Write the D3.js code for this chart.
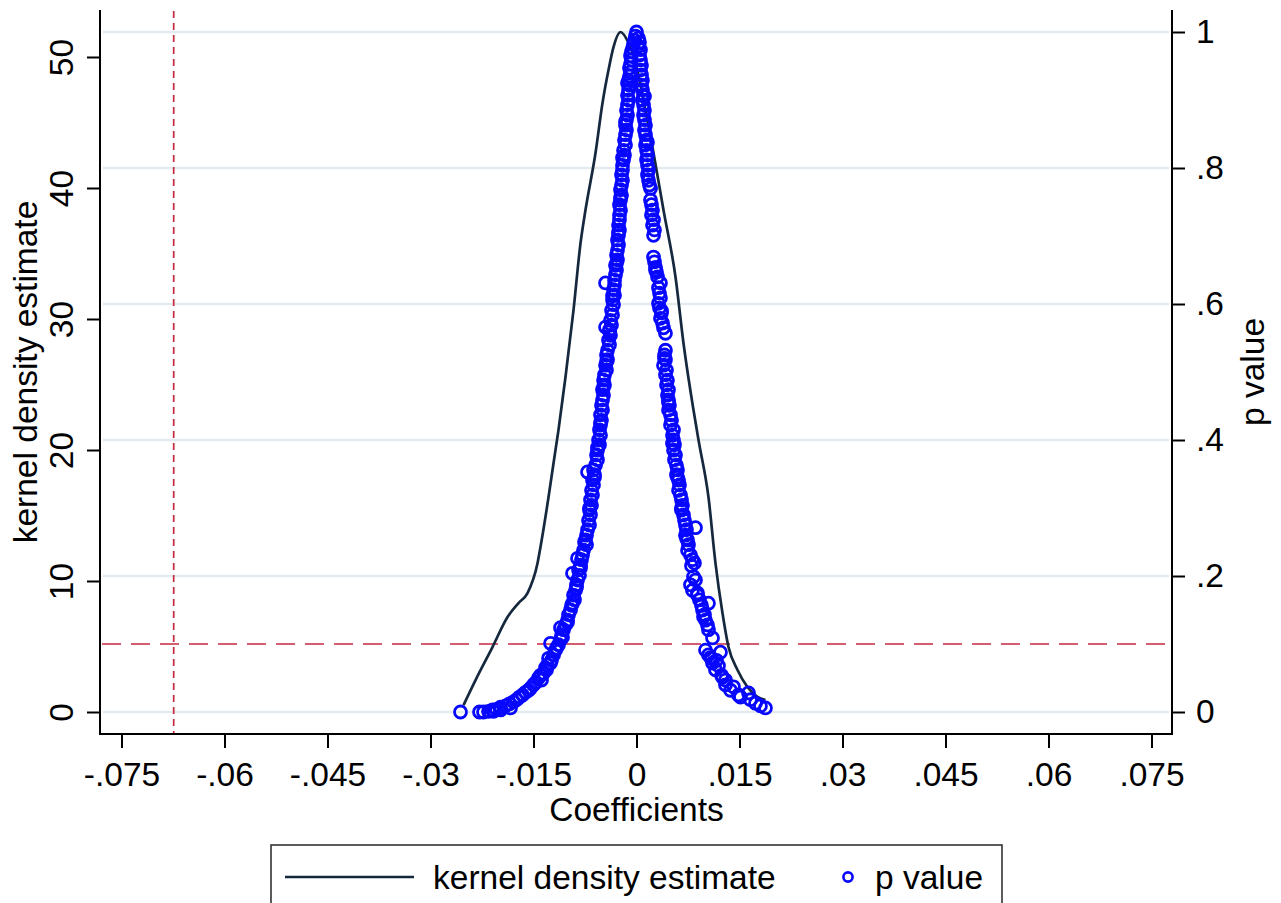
<!DOCTYPE html>
<html>
<head>
<meta charset="utf-8">
<script src="https://cdn.jsdelivr.net/npm/d3@7"></script>
<style>
  html, body { margin: 0; padding: 0; background: #fff; }
  svg { display: block; font-family: "Liberation Sans", Arial, sans-serif; }
</style>
</head>
<body>
<svg id="chart" width="1281" height="903"></svg>
<script>
// ---- tick values / labels ----
const xTicks = [-0.075, -0.06, -0.045, -0.03, -0.015, 0, 0.015, 0.03, 0.045, 0.06, 0.075];
const xTickLabels = ["-.075", "-.06", "-.045", "-.03", "-.015", "0", ".015", ".03", ".045", ".06", ".075"];
const yLeftTicks = [0, 10, 20, 30, 40, 50];
const yLeftTickLabels = ["0", "10", "20", "30", "40", "50"];
const yRightTicks = [0, 0.2, 0.4, 0.6, 0.8, 1];
const yRightTickLabels = ["0", ".2", ".4", ".6", ".8", "1"];

// ---- reference lines ----
const refP = 0.1;
const refCoef = -0.0674;

// ---- kernel density estimate ----
const densityCoef = [-0.02519, -0.02344, -0.02097, -0.01878, -0.01718, -0.01587, -0.01441, -0.01398, -0.01281, -0.01208,
  -0.01136, -0.01034, -0.00917, -0.00815, -0.00743, -0.00597, -0.00495, -0.00408, -0.00335, -0.00233,
  -0.00116, -0.00015, 0.00102, 0.00248, 0.00393, 0.00568, 0.00684, 0.00830, 0.00903, 0.01048,
  0.01150, 0.01252, 0.01340, 0.01471, 0.01616, 0.01762, 0.01878];
const densityVal = [0.53, 2.44, 4.96, 7.25, 8.32, 9.08, 11.37, 12.6, 16.41, 19.01,
  21.53, 25.57, 30.69, 35.80, 38.32, 42.67, 46.49, 49.0, 50.76, 51.91,
  51.07, 49.6, 46.7, 42.67, 38.32, 33.21, 28.17, 23.05, 20.76, 16.41,
  11.37, 7.56, 4.96, 3.21, 1.91, 1.15, 0.92];

// ---- p values (left branch) ----
const pLeftCoef = [0, -0.00015, -0.00029, -0.00044, -0.00058, -0.00073, -0.00087, -0.00073, -0.00087, -0.00102,
  -0.00087, -0.00102, -0.00116, -0.00102, -0.00116, -0.00131, -0.00116, -0.00131, -0.00146, -0.00131,
  -0.00146, -0.00160, -0.00146, -0.00160, -0.00175, -0.00160, -0.00189, -0.00175, -0.00189, -0.00204,
  -0.00204, -0.00218, -0.00204, -0.00218, -0.00233, -0.00218, -0.00233, -0.00248, -0.00233, -0.00248,
  -0.00248, -0.00262, -0.00248, -0.00262, -0.00277, -0.00262, -0.00277, -0.00291, -0.00277, -0.00306,
  -0.00291, -0.00306, -0.00320, -0.00451, -0.00320, -0.00335, -0.00320, -0.00349, -0.00335, -0.00364,
  -0.00349, -0.00379, -0.00364, -0.00451, -0.00393, -0.00379, -0.00408, -0.00393, -0.00422, -0.00437,
  -0.00422, -0.00451, -0.00437, -0.00466, -0.00480, -0.00466, -0.00495, -0.00480, -0.00495, -0.00510,
  -0.00495, -0.00524, -0.00510, -0.00524, -0.00539, -0.00524, -0.00553, -0.00539, -0.00568, -0.00582,
  -0.00568, -0.00597, -0.00626, -0.00713, -0.00612, -0.00641, -0.00626, -0.00655, -0.00641, -0.00670,
  -0.00655, -0.00684, -0.00670, -0.00699, -0.00684, -0.00713, -0.00728, -0.00743, -0.00728, -0.00772,
  -0.00786, -0.00859, -0.00801, -0.00815, -0.00844, -0.00932, -0.00830, -0.00859, -0.00874, -0.00888,
  -0.00917, -0.00903, -0.00946, -0.00961, -0.00990, -0.01005, -0.01034, -0.01107, -0.01063, -0.01092,
  -0.01107, -0.01252, -0.01136, -0.01165, -0.01179, -0.01208, -0.01281, -0.01238, -0.01252, -0.01296,
  -0.01325, -0.01310, -0.01354, -0.01398, -0.01427, -0.01383, -0.01471, -0.01500, -0.01543, -0.01572,
  -0.01616, -0.01660, -0.01704, -0.01747, -0.01791, -0.01849, -0.01907, -0.01980, -0.02038, -0.02097,
  -0.02155, -0.02228, -0.02286, -0.02563, -0.02082, -0.01980, -0.01835,
  -0.00131, -0.00160, -0.00204, -0.00233, -0.00262, -0.00291, -0.00349, -0.00393, -0.00437, -0.00480,
  -0.00524, -0.00568, -0.00612, -0.00684, -0.00757, -0.00815, -0.00874, -0.00932, -0.01005, -0.01077];
const pLeftP = [1.000, 0.994, 0.988, 0.982, 0.976, 0.971, 0.965, 0.959, 0.953, 0.947,
  0.941, 0.935, 0.929, 0.922, 0.915, 0.907, 0.900, 0.893, 0.885, 0.878,
  0.871, 0.863, 0.856, 0.849, 0.841, 0.834, 0.826, 0.819, 0.812, 0.804,
  0.797, 0.790, 0.782, 0.775, 0.768, 0.760, 0.753, 0.746, 0.738, 0.731,
  0.724, 0.716, 0.709, 0.701, 0.694, 0.687, 0.679, 0.672, 0.665, 0.657,
  0.650, 0.643, 0.635, 0.631, 0.628, 0.621, 0.613, 0.606, 0.599, 0.591,
  0.584, 0.576, 0.569, 0.566, 0.562, 0.554, 0.547, 0.540, 0.532, 0.525,
  0.518, 0.510, 0.503, 0.496, 0.488, 0.481, 0.474, 0.466, 0.459, 0.451,
  0.444, 0.437, 0.429, 0.422, 0.415, 0.407, 0.400, 0.393, 0.385, 0.378,
  0.371, 0.363, 0.356, 0.353, 0.349, 0.341, 0.334, 0.326, 0.319, 0.312,
  0.304, 0.297, 0.290, 0.282, 0.275, 0.268, 0.260, 0.253, 0.246, 0.238,
  0.231, 0.226, 0.224, 0.216, 0.209, 0.204, 0.201, 0.194, 0.187, 0.179,
  0.172, 0.165, 0.157, 0.150, 0.143, 0.135, 0.128, 0.124, 0.121, 0.113,
  0.106, 0.101, 0.099, 0.094, 0.091, 0.084, 0.079, 0.076, 0.072, 0.069,
  0.065, 0.062, 0.057, 0.054, 0.050, 0.047, 0.043, 0.040, 0.035, 0.032,
  0.029, 0.025, 0.022, 0.018, 0.015, 0.012, 0.009, 0.007, 0.004, 0.003,
  0.001, 0.000, 0.000, 0.000, 0.001, 0.003, 0.006,
  0.925, 0.868, 0.815, 0.757, 0.705, 0.660, 0.612, 0.560, 0.515, 0.478,
  0.426, 0.389, 0.345, 0.300, 0.250, 0.212, 0.183, 0.160, 0.132, 0.110];

// ---- p values (right branch) ----
const pRightCoef = [0.00029, 0.00044, 0.00029, 0.00058, 0.00044, 0.00058, 0.00073, 0.00058, 0.00073, 0.00087,
  0.00073, 0.00087, 0.00102, 0.00087, 0.00102, 0.00116, 0.00102, 0.00116, 0.00131, 0.00116,
  0.00131, 0.00146, 0.00131, 0.00146, 0.00160, 0.00146, 0.00160, 0.00175, 0.00160, 0.00175,
  0.00189, 0.00204, 0.00218, 0.00233, 0.00218, 0.00248, 0.00233, 0.00262, 0.00248, 0.00248,
  0.00262, 0.00277, 0.00291, 0.00306, 0.00349, 0.00320, 0.00335, 0.00349, 0.00320, 0.00335,
  0.00364, 0.00349, 0.00379, 0.00393, 0.00422, 0.00422, 0.00408, 0.00422, 0.00393, 0.00437,
  0.00422, 0.00451, 0.00437, 0.00466, 0.00451, 0.00466, 0.00480, 0.00466, 0.00495, 0.00510,
  0.00495, 0.00539, 0.00524, 0.00539, 0.00553, 0.00539, 0.00568, 0.00553, 0.00582, 0.00597,
  0.00582, 0.00612, 0.00626, 0.00612, 0.00641, 0.00655, 0.00670, 0.00655, 0.00684, 0.00699,
  0.00713, 0.00859, 0.00728, 0.00713, 0.00743, 0.00757, 0.00743, 0.00786, 0.00815, 0.00844,
  0.00830, 0.00859, 0.00786, 0.00815, 0.00888, 0.00917, 0.01048, 0.00946, 0.00961, 0.00990,
  0.01005, 0.01034, 0.01048, 0.01107, 0.01005, 0.01223, 0.01048, 0.01092, 0.01165, 0.01107,
  0.01194, 0.01150, 0.01238, 0.01252, 0.01296, 0.01296, 0.01412, 0.01369, 0.01631, 0.01485,
  0.01514, 0.01660, 0.01733, 0.01805, 0.01878,
  0.00116, 0.00160, 0.00204, 0.00277, 0.00364, 0.00408, 0.00466, 0.00524, 0.00597, 0.00655,
  0.00728, 0.00801, 0.00888, 0.00976, 0.01077];
const pRightP = [0.991, 0.985, 0.979, 0.974, 0.966, 0.959, 0.951, 0.944, 0.937, 0.929,
  0.922, 0.915, 0.907, 0.900, 0.893, 0.885, 0.878, 0.871, 0.863, 0.856,
  0.849, 0.841, 0.834, 0.826, 0.819, 0.812, 0.804, 0.797, 0.790, 0.782,
  0.775, 0.753, 0.746, 0.738, 0.731, 0.724, 0.716, 0.709, 0.701, 0.669,
  0.662, 0.654, 0.647, 0.640, 0.631, 0.624, 0.616, 0.609, 0.601, 0.594,
  0.587, 0.579, 0.572, 0.565, 0.557, 0.532, 0.525, 0.518, 0.510, 0.503,
  0.496, 0.488, 0.481, 0.474, 0.466, 0.459, 0.451, 0.444, 0.437, 0.429,
  0.422, 0.415, 0.407, 0.400, 0.393, 0.385, 0.378, 0.371, 0.363, 0.356,
  0.349, 0.341, 0.334, 0.326, 0.319, 0.312, 0.304, 0.297, 0.290, 0.282,
  0.275, 0.271, 0.268, 0.260, 0.253, 0.246, 0.238, 0.231, 0.224, 0.219,
  0.199, 0.194, 0.187, 0.179, 0.172, 0.165, 0.160, 0.157, 0.150, 0.143,
  0.135, 0.128, 0.121, 0.109, 0.091, 0.088, 0.084, 0.079, 0.076, 0.072,
  0.068, 0.062, 0.054, 0.051, 0.047, 0.040, 0.037, 0.032, 0.028, 0.025,
  0.022, 0.018, 0.013, 0.009, 0.006,
  0.905, 0.838, 0.770, 0.650, 0.590, 0.520, 0.455, 0.395, 0.345, 0.300,
  0.255, 0.215, 0.175, 0.140, 0.080];

// ---- layout ----
const W = 1281, H = 903;
const plot = { left: 100, right: 1172, top: 10, bottom: 734 };
const FONT = 33.5;
const navy = "#15283e";
const blue = "#0808ff";
const red = "#c62a40";
const gridCol = "#e3ebef";

const svg = d3.select("#chart");
svg.append("rect").attr("width", W).attr("height", H).attr("fill", "#fff");

const x = d3.scaleLinear().domain([-0.075, 0.075]).range([121.5, 1151.5]);
const yL = d3.scaleLinear().domain([0, 50]).range([712, 57]);
const yR = d3.scaleLinear().domain([0, 1]).range([712, 32]);

// gridlines (from p-value axis)
svg.append("g").selectAll("line").data(yRightTicks).join("line")
  .attr("x1", plot.left + 3).attr("x2", plot.right - 3)
  .attr("y1", d => yR(d)).attr("y2", d => yR(d))
  .attr("stroke", gridCol).attr("stroke-width", 2.4);

// reference lines
svg.append("line")
  .attr("x1", plot.left + 2).attr("x2", plot.right - 2)
  .attr("y1", yR(refP)).attr("y2", yR(refP))
  .attr("stroke", red).attr("stroke-width", 1.7).attr("stroke-dasharray", "19,10");
svg.append("line")
  .attr("x1", x(refCoef)).attr("x2", x(refCoef))
  .attr("y1", plot.top + 1).attr("y2", plot.bottom - 1)
  .attr("stroke", red).attr("stroke-width", 1.7).attr("stroke-dasharray", "7,5");

// density line
const densityData = densityCoef.map((c, i) => [c, densityVal[i]]);
svg.append("path").datum(densityData)
  .attr("fill", "none").attr("stroke", navy).attr("stroke-width", 2.7)
  .attr("stroke-linejoin", "round")
  .attr("d", d3.line().x(d => x(d[0])).y(d => yL(d[1])).curve(d3.curveMonotoneX));

// p value points
const pts = pLeftCoef.map((c, i) => [c, pLeftP[i]])
  .concat(pRightCoef.map((c, i) => [c, pRightP[i]]));
svg.append("g").selectAll("circle").data(pts).join("circle")
  .attr("cx", d => x(d[0])).attr("cy", d => yR(d[1])).attr("r", 6)
  .attr("fill", "none").attr("stroke", blue).attr("stroke-width", 2.8);

// axes
const styleAxis = g => {
  g.select(".domain").remove();
  g.selectAll(".tick line").attr("stroke", "#000").attr("stroke-width", 2);
  g.selectAll(".tick text").attr("font-size", FONT).attr("fill", "#000")
    .attr("font-family", "'Liberation Sans', Arial, sans-serif");
};

// bottom axis
const gx = svg.append("g").attr("transform", `translate(0,${plot.bottom})`)
  .call(d3.axisBottom(x).tickValues(xTicks).tickSize(14).tickPadding(14)
    .tickFormat((d, i) => xTickLabels[i]));
styleAxis(gx);
svg.append("line").attr("x1", plot.left - 1).attr("x2", plot.right + 1)
  .attr("y1", plot.bottom).attr("y2", plot.bottom).attr("stroke", "#000").attr("stroke-width", 2);

// left axis
const gl = svg.append("g").attr("transform", `translate(${plot.left},0)`)
  .call(d3.axisLeft(yL).tickValues(yLeftTicks).tickSize(13)
    .tickFormat((d, i) => yLeftTickLabels[i]));
styleAxis(gl);
gl.selectAll(".tick text").attr("transform", "rotate(-90)")
  .attr("x", 0).attr("y", -27).attr("dy", 0).attr("text-anchor", "middle");
svg.append("line").attr("x1", plot.left).attr("x2", plot.left)
  .attr("y1", plot.top).attr("y2", plot.bottom + 1).attr("stroke", "#000").attr("stroke-width", 2);

// right axis
const gr = svg.append("g").attr("transform", `translate(${plot.right},0)`)
  .call(d3.axisRight(yR).tickValues(yRightTicks).tickSize(13).tickPadding(11)
    .tickFormat((d, i) => yRightTickLabels[i]));
styleAxis(gr);
svg.append("line").attr("x1", plot.right).attr("x2", plot.right)
  .attr("y1", plot.top).attr("y2", plot.bottom + 1).attr("stroke", "#000").attr("stroke-width", 2);

// axis titles
svg.append("text").attr("x", (x(-0.075) + x(0.075)) / 2).attr("y", 821)
  .attr("text-anchor", "middle").attr("font-size", FONT).text("Coefficients");
svg.append("text").attr("transform", "translate(37,372) rotate(-90)")
  .attr("text-anchor", "middle").attr("font-size", FONT).text("kernel density estimate");
svg.append("text").attr("transform", "translate(1264,372) rotate(-90)")
  .attr("text-anchor", "middle").attr("font-size", FONT).text("p value");

// legend
const lg = svg.append("g");
lg.append("rect").attr("x", 271).attr("y", 845).attr("width", 731).attr("height", 90)
  .attr("fill", "#fff").attr("stroke", "#333").attr("stroke-width", 1.6);
lg.append("line").attr("x1", 285).attr("x2", 414).attr("y1", 877).attr("y2", 877)
  .attr("stroke", navy).attr("stroke-width", 2.7);
lg.append("text").attr("x", 433).attr("y", 889).attr("font-size", FONT).text("kernel density estimate");
lg.append("circle").attr("cx", 848).attr("cy", 877).attr("r", 4.6)
  .attr("fill", "none").attr("stroke", blue).attr("stroke-width", 2.6);
lg.append("text").attr("x", 875).attr("y", 889).attr("font-size", FONT).text("p value");
</script>
</body>
</html>
